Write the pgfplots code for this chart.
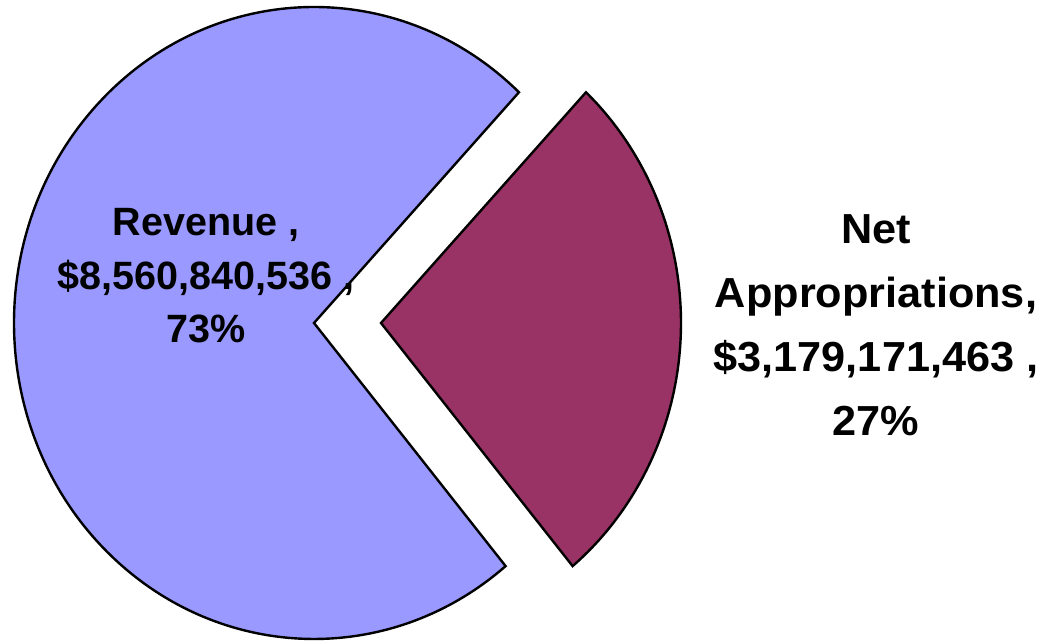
\documentclass[border=0pt]{standalone}
\usepackage{pgfplots}
\usepackage{pgfplotstable}
\pgfplotsset{compat=1.18}
\usepackage{fontspec}
\setmainfont{Liberation Sans}

\definecolor{pieblue}{HTML}{9999FF}
\definecolor{piered}{HTML}{993366}

% slice, amount, share in percent
\pgfplotstableread{
name      amount      pct
Revenue   8560840536  73
NetApprop 3179171463  27
}\piedata

\begin{document}
\begin{tikzpicture}
\pgfplotstablegetelem{0}{pct}\of\piedata \let\revpct\pgfplotsretval
\pgfplotstablegetelem{1}{pct}\of\piedata \let\apppct\pgfplotsretval
\pgfmathsetmacro{\redstart}{-50.3}
\pgfmathsetmacro{\redend}{\redstart+3.6*\apppct}
\pgfmathsetmacro{\blueend}{\redend+3.6*\revpct}
\begin{axis}[
  scale only axis,
  width=1042pt, height=642pt,
  xmin=0, xmax=1042, ymin=0, ymax=642,
  hide axis, clip=false
]
% revenue slice
\filldraw[fill=pieblue, draw=black, line width=2.4pt, line join=miter]
  (axis cs:314,319) -- ++(\redend:300pt and 316pt)
  arc[start angle=\redend, end angle=\blueend, x radius=300pt, y radius=316pt] -- cycle;
% net appropriations slice (exploded)
\filldraw[fill=piered, draw=black, line width=2.4pt, line join=miter]
  (axis cs:381,319) -- ++(\redstart:300pt and 316pt)
  arc[start angle=\redstart, end angle=\redend, x radius=300pt, y radius=316pt] -- cycle;
\node[align=center, font=\fontsize{39.5}{53.5}\selectfont\bfseries]
  at (axis cs:206,366) {Revenue ,\\\$8,560,840,536 ,\\73\%};
\node[align=center, xscale=1.03, font=\fontsize{42}{64}\selectfont\bfseries]
  at (axis cs:876,317) {Net\\Appropriations,\\\$3,179,171,463 ,\\27\%};
\end{axis}
\pgfresetboundingbox
\path (0,0) rectangle (1042pt,642pt);
\end{tikzpicture}
\end{document}
